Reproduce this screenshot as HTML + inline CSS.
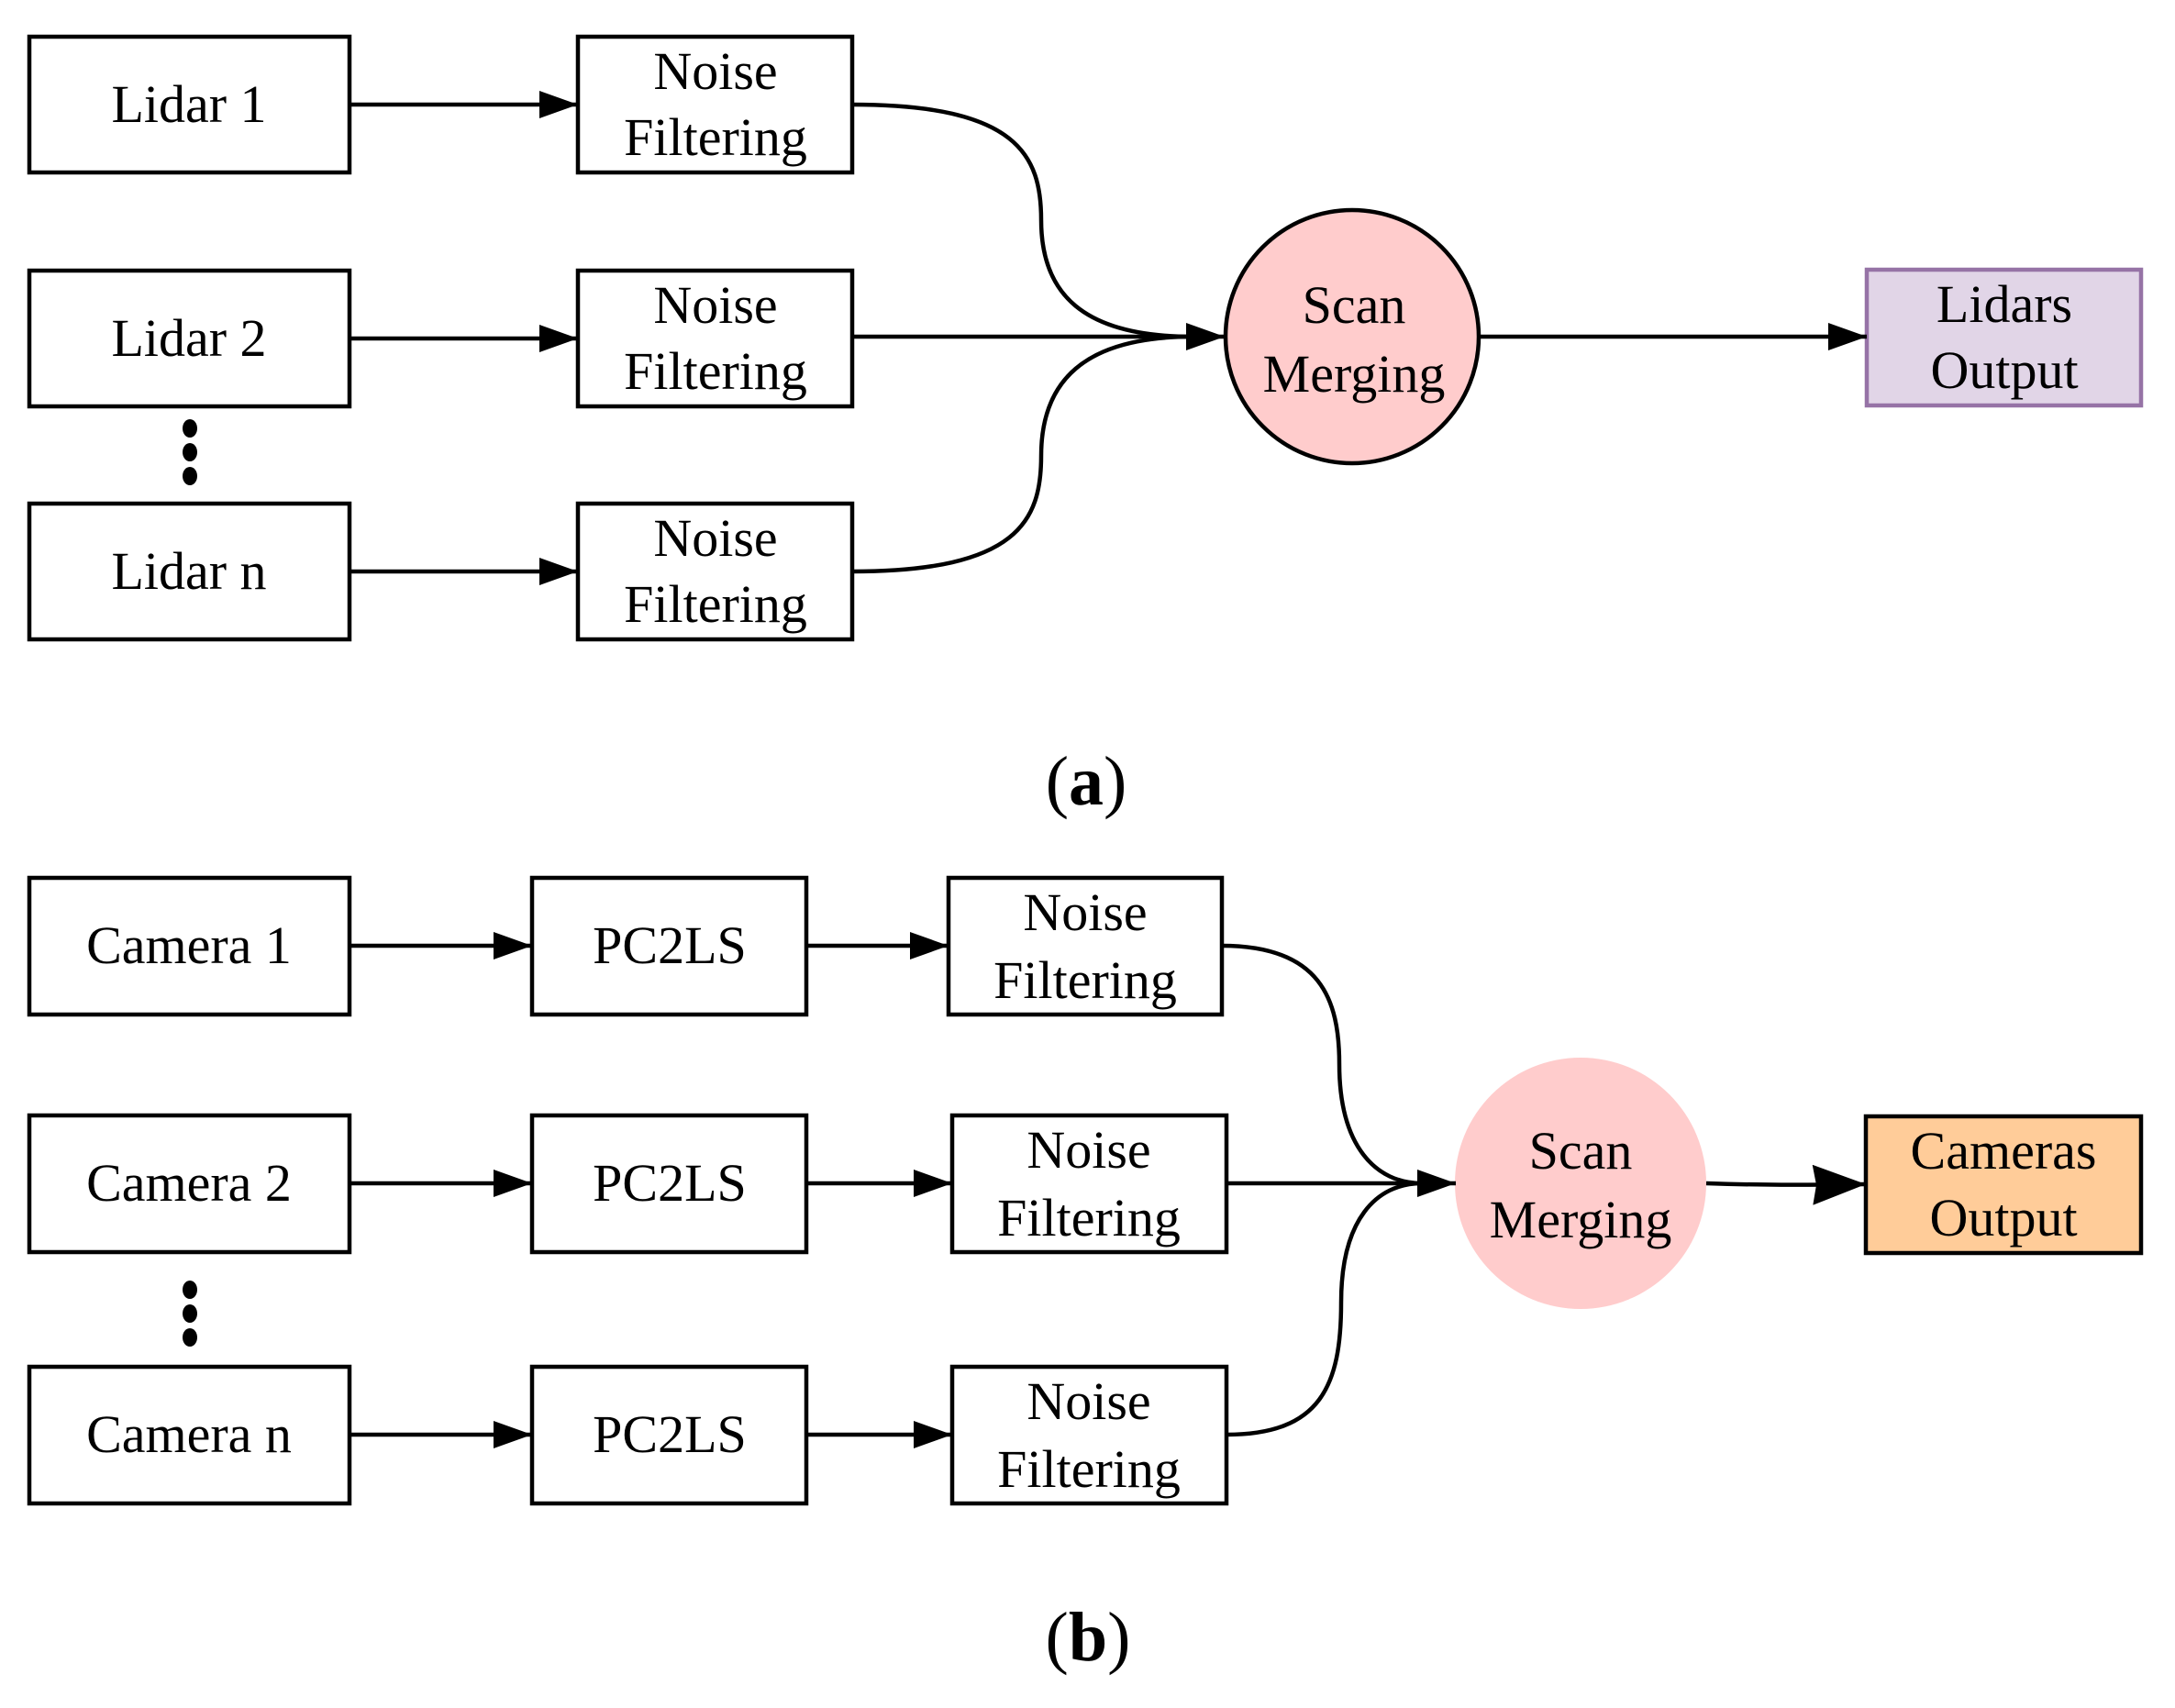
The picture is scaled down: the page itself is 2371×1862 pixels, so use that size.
<!DOCTYPE html>
<html><head><style>html,body{margin:0;padding:0;background:#fff}</style></head>
<body>
<svg width="2371" height="1857" viewBox="0 0 2371 1857" xmlns="http://www.w3.org/2000/svg" font-family="Liberation Serif, serif" font-size="58" text-anchor="middle">
<defs>
<marker id="ah" markerUnits="userSpaceOnUse" markerWidth="44" markerHeight="32" refX="42" refY="15" orient="auto">
<path d="M0,0 L42,15 L0,30 Z" fill="#000"/>
</marker>
<marker id="ah2" markerUnits="userSpaceOnUse" markerWidth="60" markerHeight="48" refX="58" refY="22" orient="auto">
<path d="M0,0 L58,22 L0,44 L4,22 Z" fill="#000"/>
</marker>
</defs>
<g stroke="#000" stroke-width="4.5" fill="none">
<rect x="32" y="40" width="349" height="148" fill="#fff"/>
<rect x="32" y="295" width="349" height="148" fill="#fff"/>
<rect x="32" y="549" width="349" height="148" fill="#fff"/>
<rect x="630" y="40" width="299" height="148" fill="#fff"/>
<rect x="630" y="295" width="299" height="148" fill="#fff"/>
<rect x="630" y="549" width="299" height="148" fill="#fff"/>
<circle cx="1474" cy="367" r="138" fill="#ffcccc"/>
<rect x="2035" y="294" width="299" height="148" fill="#e1d5e7" stroke="#9673a6"/>
<line x1="381" y1="114" x2="630" y2="114" marker-end="url(#ah)"/>
<line x1="381" y1="369" x2="630" y2="369" marker-end="url(#ah)"/>
<line x1="381" y1="623" x2="630" y2="623" marker-end="url(#ah)"/>
<path d="M929,114 C1110,114 1135,170 1135,240 C1135,320 1180,367 1300,367"/>
<path d="M929,623 C1110,623 1135,567 1135,497 C1135,417 1180,367 1300,367"/>
<line x1="929" y1="367" x2="1335" y2="367" marker-end="url(#ah)"/>
<line x1="1612" y1="367" x2="2035" y2="367" marker-end="url(#ah)"/>
<rect x="32" y="957" width="349" height="149" fill="#fff"/>
<rect x="32" y="1216" width="349" height="149" fill="#fff"/>
<rect x="32" y="1490" width="349" height="149" fill="#fff"/>
<rect x="580" y="957" width="299" height="149" fill="#fff"/>
<rect x="580" y="1216" width="299" height="149" fill="#fff"/>
<rect x="580" y="1490" width="299" height="149" fill="#fff"/>
<rect x="1034" y="957" width="298" height="149" fill="#fff"/>
<rect x="1038" y="1216" width="299" height="149" fill="#fff"/>
<rect x="1038" y="1490" width="299" height="149" fill="#fff"/>
<circle cx="1723" cy="1290" r="137" fill="#ffcccc" stroke="none"/>
<rect x="2034" y="1217" width="300" height="149" fill="#ffcc99"/>
<line x1="381" y1="1031" x2="580" y2="1031" marker-end="url(#ah)"/>
<line x1="381" y1="1290" x2="580" y2="1290" marker-end="url(#ah)"/>
<line x1="381" y1="1564" x2="580" y2="1564" marker-end="url(#ah)"/>
<line x1="879" y1="1031" x2="1034" y2="1031" marker-end="url(#ah)"/>
<line x1="879" y1="1290" x2="1038" y2="1290" marker-end="url(#ah)"/>
<line x1="879" y1="1564" x2="1038" y2="1564" marker-end="url(#ah)"/>
<path d="M1332,1031 C1440,1031 1460,1090 1460,1160 C1460,1250 1500,1290 1550,1290"/>
<path d="M1337,1564 C1440,1564 1462,1510 1462,1420 C1462,1330 1500,1290 1550,1290"/>
<line x1="1337" y1="1290" x2="1587" y2="1290" marker-end="url(#ah)"/>
<path d="M1860,1290 C1920,1292 1960,1292 2034,1291" marker-end="url(#ah2)"/>
</g>
<g fill="#000">
<ellipse cx="207" cy="467" rx="8" ry="10"/><ellipse cx="207" cy="493" rx="8" ry="10"/><ellipse cx="207" cy="519" rx="8" ry="10"/>
<ellipse cx="207" cy="1406" rx="8" ry="10"/><ellipse cx="207" cy="1432" rx="8" ry="10"/><ellipse cx="207" cy="1458" rx="8" ry="10"/>
</g>
<g fill="#000">
<text x="206" y="133">Lidar 1</text>
<text x="206" y="388">Lidar 2</text>
<text x="206" y="642">Lidar n</text>
<text x="780" y="97">Noise</text><text x="780" y="169">Filtering</text>
<text x="780" y="352">Noise</text><text x="780" y="424">Filtering</text>
<text x="780" y="606">Noise</text><text x="780" y="678">Filtering</text>
<text x="1476" y="352">Scan</text><text x="1476" y="427">Merging</text>
<text x="2185" y="351">Lidars</text><text x="2185" y="423">Output</text>
<text x="1184" y="877" font-size="76">(<tspan font-weight="bold">a</tspan>)</text>
<text x="206" y="1050">Camera 1</text>
<text x="206" y="1309">Camera 2</text>
<text x="206" y="1583">Camera n</text>
<text x="730" y="1050">PC2LS</text>
<text x="730" y="1309">PC2LS</text>
<text x="730" y="1583">PC2LS</text>
<text x="1183" y="1014">Noise</text><text x="1183" y="1088">Filtering</text>
<text x="1187" y="1273">Noise</text><text x="1187" y="1347">Filtering</text>
<text x="1187" y="1547">Noise</text><text x="1187" y="1621">Filtering</text>
<text x="1723" y="1274">Scan</text><text x="1723" y="1349">Merging</text>
<text x="2184" y="1274">Cameras</text><text x="2184" y="1347">Output</text>
<text x="1186" y="1810" font-size="76">(<tspan font-weight="bold">b</tspan>)</text>
</g>
</svg>
</body></html>
